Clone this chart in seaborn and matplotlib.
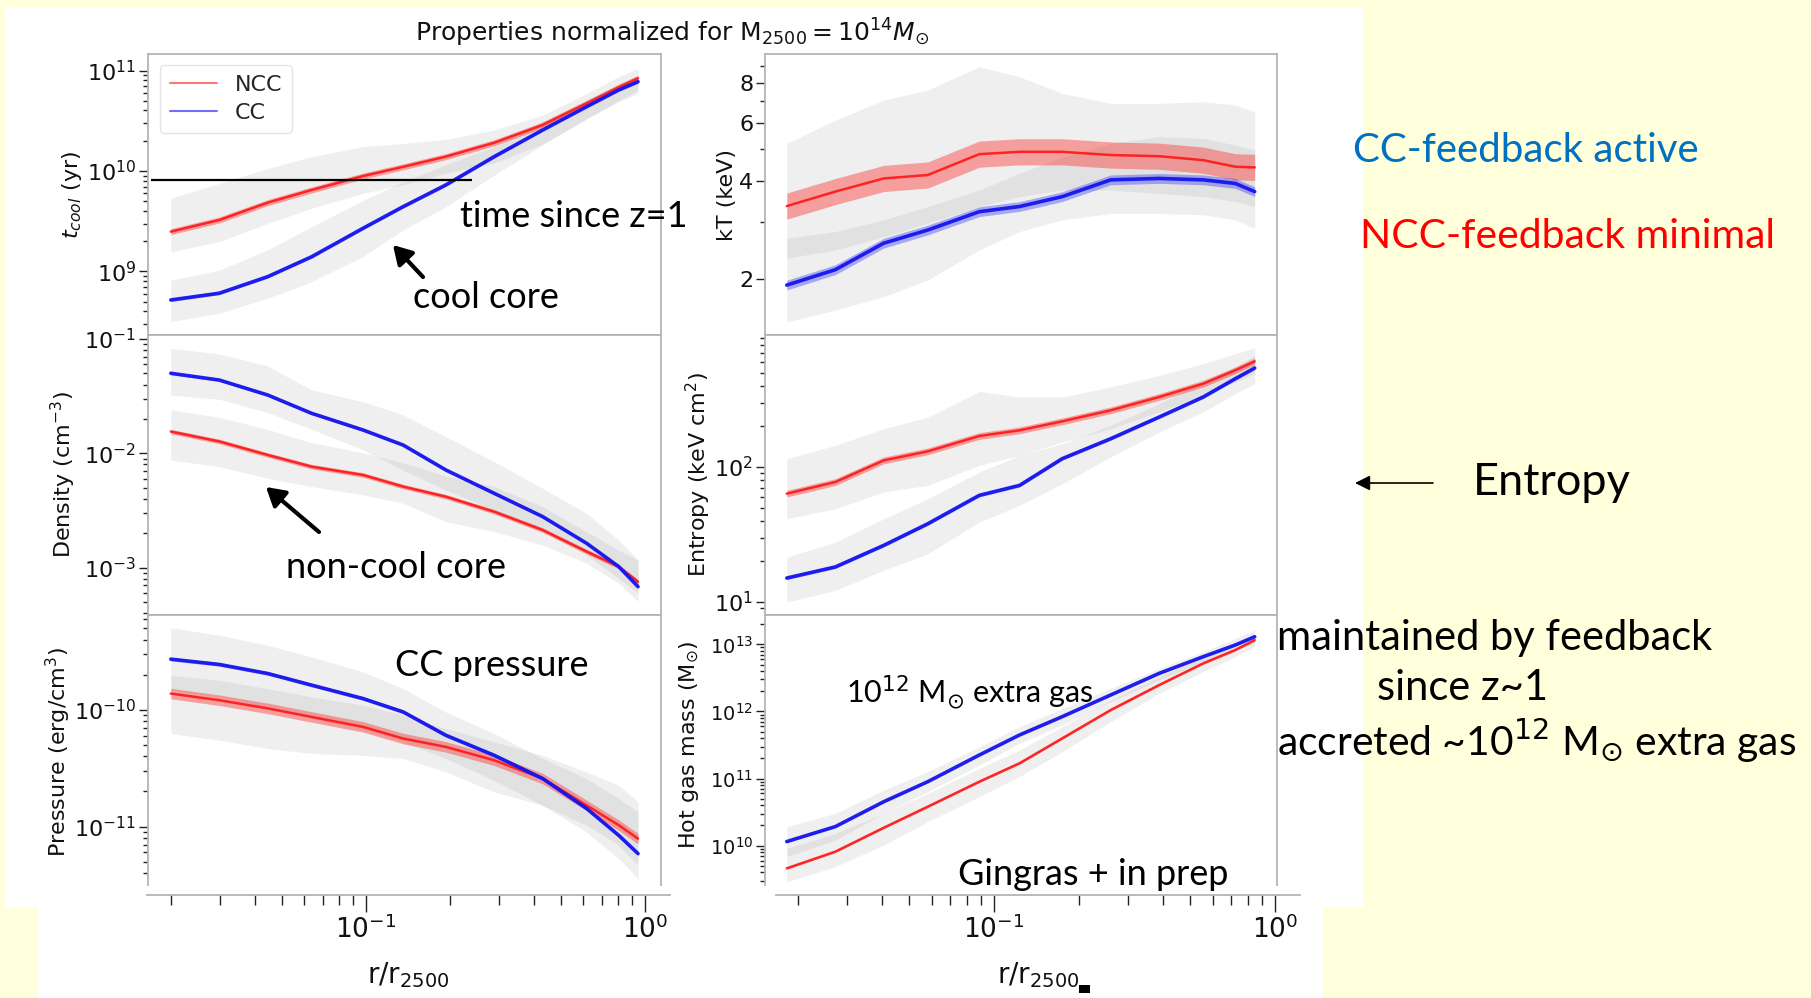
import matplotlib
matplotlib.use("Agg")
import numpy as np
import matplotlib.pyplot as plt
import seaborn as sns
from matplotlib.patches import Rectangle, FancyArrowPatch, ArrowStyle
from matplotlib.lines import Line2D
from matplotlib.ticker import (LogLocator, FixedLocator, FixedFormatter,
                               NullFormatter)

W, H = 1811, 998

# radial bins in units of r2500
radius = [0.02, 0.03, 0.045, 0.065, 0.1, 0.14, 0.2, 0.3, 0.45, 0.65, 0.85, 1.0]

# cooling time (yr)
tcool_ncc    = [2.49e9, 3.25e9, 4.84e9, 6.47e9, 8.9e9, 1.10e10, 1.39e10, 1.91e10, 2.87e10, 4.71e10, 6.81e10, 8.36e10]
tcool_ncc_lo = [1.57e9, 1.98e9, 3.0e9, 4.25e9, 6.0e9, 7.3e9, 9.5e9, 1.2e10, 1.86e10, 3.3e10, 5.0e10, 6.3e10]
tcool_ncc_hi = [5.35e9, 7.5e9, 1.06e10, 1.39e10, 1.75e10, 1.88e10, 2.06e10, 2.56e10, 3.6e10, 5.9e10, 8.7e10, 1.05e11]
tcool_cc     = [5.2e8, 6.07e8, 8.87e8, 1.40e9, 2.69e9, 4.42e9, 7.26e9, 1.39e10, 2.56e10, 4.37e10, 6.4e10, 7.74e10]
tcool_cc_lo  = [3.17e8, 3.84e8, 5.4e8, 7.9e8, 1.41e9, 2.59e9, 4.4e9, 9.1e9, 1.82e10, 3.3e10, 4.9e10, 5.9e10]
tcool_cc_hi  = [8.2e8, 1.03e9, 1.64e9, 2.79e9, 5.1e9, 7.8e9, 1.15e10, 1.75e10, 3.1e10, 5.1e10, 7.4e10, 9.0e10]
t_since_z1 = 8.2e9
t_line_span = [0.01694, 0.248]

# temperature (keV)
kt_ncc    = [3.35, 3.71, 4.07, 4.17, 4.83, 4.91, 4.91, 4.80, 4.76, 4.63, 4.42, 4.40]
kt_ncc_lo = [2.32, 2.46, 2.70, 2.97, 3.34, 3.58, 3.75, 3.75, 3.66, 3.58, 3.46, 3.34]
kt_ncc_hi = [5.21, 6.14, 7.07, 7.59, 8.94, 8.33, 7.41, 6.91, 6.91, 6.99, 6.83, 6.51]
kt_cc     = [1.92, 2.14, 2.58, 2.83, 3.22, 3.34, 3.58, 4.03, 4.07, 4.03, 3.93, 3.71]
kt_cc_lo  = [1.48, 1.61, 1.77, 1.99, 2.46, 2.80, 3.04, 3.18, 3.18, 3.15, 3.04, 2.86]
kt_cc_hi  = [2.67, 2.80, 3.04, 3.34, 3.75, 4.22, 4.74, 5.21, 5.46, 5.40, 5.15, 4.97]

# electron density (cm^-3)
dens_ncc    = [0.0155, 0.0127, 0.00967, 0.00764, 0.00646, 0.00511, 0.00417, 0.00308, 0.00213, 0.00138, 0.00102, 7.5e-4]
dens_ncc_lo = [0.00874, 0.00764, 0.00604, 0.00511, 0.00432, 0.00365, 0.00252, 0.00206, 0.00157, 0.00109, 7.27e-4, 5.03e-4]
dens_ncc_hi = [0.0240, 0.0207, 0.0162, 0.0124, 0.0101, 0.00828, 0.00633, 0.00511, 0.00341, 0.00206, 0.00142, 0.00116]
dens_cc     = [0.0502, 0.0438, 0.0324, 0.0224, 0.0160, 0.0118, 0.00715, 0.00446, 0.00279, 0.00163, 0.00102, 6.8e-4]
dens_cc_lo  = [0.0324, 0.0297, 0.0227, 0.0162, 0.0107, 0.00714, 0.00477, 0.00319, 0.00206, 0.00129, 8.04e-4, 5.94e-4]
dens_cc_hi  = [0.0831, 0.0741, 0.0582, 0.0359, 0.0283, 0.0217, 0.0140, 0.00845, 0.00494, 0.00298, 0.00174, 0.00116]

# entropy (keV cm^2)
ent_ncc    = [63.5, 77.4, 112, 130.6, 169.7, 186.9, 217.9, 263, 330, 414, 520, 606]
ent_ncc_lo = [41.4, 49.1, 65.3, 73.1, 102.9, 122, 153.2, 192.3, 255.6, 339.6, 426.3, 491.3]
ent_ncc_hi = [115.3, 144.7, 192.3, 234.6, 363.5, 330, 330, 391.5, 477.5, 582.6, 691, 761]
ent_cc     = [15.06, 18.2, 26.3, 38.0, 61.7, 73.1, 115.3, 162.1, 234.6, 330, 451, 541]
ent_cc_lo  = [10.0, 12.2, 17.2, 22.8, 39.1, 52.0, 75.2, 118.6, 181.7, 255.6, 349.3, 414]
ent_cc_hi  = [21.5, 27.8, 41.4, 58.3, 91.8, 122, 148.9, 203.5, 294.5, 426.3, 550.5, 671.8]

# pressure (erg/cm^3)
pres_ncc    = [1.38e-10, 1.21e-10, 1.03e-10, 8.7e-11, 7.15e-11, 5.68e-11, 4.82e-11, 3.7e-11, 2.58e-11, 1.52e-11, 1.03e-11, 7.88e-12]
pres_ncc_lo = [6.27e-11, 5.5e-11, 4.66e-11, 4.23e-11, 4.08e-11, 3.83e-11, 2.94e-11, 1.98e-11, 1.52e-11, 1.03e-11, 6.92e-12, 4.66e-12]
pres_ncc_hi = [1.98e-10, 1.79e-10, 1.52e-10, 1.29e-10, 1.10e-10, 9.0e-11, 6.92e-11, 5.32e-11, 4.08e-11, 2.94e-11, 2.26e-11, 1.63e-11]
pres_cc     = [2.72e-10, 2.45e-10, 2.05e-10, 1.63e-10, 1.25e-10, 9.6e-11, 6.06e-11, 4.08e-11, 2.58e-11, 1.43e-11, 8.43e-12, 5.87e-12]
pres_cc_lo  = [1.47e-10, 1.29e-10, 1.06e-10, 8.43e-11, 6.70e-11, 5.32e-11, 3.83e-11, 2.49e-11, 1.52e-11, 9.0e-12, 5.32e-12, 3.58e-12]
pres_cc_hi  = [5.05e-10, 4.37e-10, 3.58e-10, 2.84e-10, 2.12e-10, 1.52e-10, 9.6e-11, 6.27e-11, 3.83e-11, 2.58e-11, 1.74e-11, 1.34e-11]

# enclosed hot gas mass (Msun)
mgas_ncc    = [4.59e9, 8.13e9, 1.85e10, 3.81e10, 8.98e10, 1.69e11, 3.97e11, 1.05e12, 2.48e12, 5.21e12, 8.24e12, 1.16e13]
mgas_ncc_lo = [2.9e9, 4.86e9, 1.02e10, 2.28e10, 5.37e10, 1.07e11, 2.51e11, 7.03e11, 1.86e12, 3.92e12, 6.55e12, 9.23e12]
mgas_ncc_hi = [9.12e9, 1.52e10, 3.03e10, 6.01e10, 1.42e11, 2.66e11, 5.93e11, 1.48e12, 3.30e12, 6.55e12, 1.04e13, 1.38e13]
mgas_cc     = [1.15e10, 1.92e10, 4.52e10, 8.98e10, 2.24e11, 4.46e11, 8.36e11, 1.76e12, 3.70e12, 6.55e12, 9.78e12, 1.30e13]
mgas_cc_lo  = [6.86e9, 1.21e10, 3.03e10, 6.37e10, 1.59e11, 3.35e11, 6.28e11, 1.40e12, 2.94e12, 5.52e12, 8.24e12, 1.04e13]
mgas_cc_hi  = [1.92e10, 3.03e10, 6.74e10, 1.27e11, 2.98e11, 5.93e11, 1.11e12, 2.21e12, 4.38e12, 7.78e12, 1.23e13, 1.64e13]

# half-width (dex) of the bundle of individual cluster profiles
bundle_dex = {
    "tcool": (0.03, 0.015), "kt": (0.04, 0.015), "dens": (0.02, 0.012),
    "ent": (0.025, 0.012), "pres": (0.045, 0.015), "mgas": (0.015, 0.01),
}

# ---------------------------------------------------------------- style
sns.set_theme(style="ticks")
plt.rcParams["font.family"] = ["DejaVu Sans"]
plt.rcParams["mathtext.fontset"] = "dejavusans"
ANN = ["Lato", "DejaVu Sans"]

NCC_COL = "#ff1c1c"
CC_COL = "#1414f0"
SPINE = "#b4b4b4"
TICK = "#222222"

fig = plt.figure(figsize=(W / 100, H / 100), dpi=100, facecolor="#ffffdc")

# white slide area behind the chart
fig.patches.append(Rectangle((5 / W, 1 - 907 / H), 1358 / W, 899 / H,
                             transform=fig.transFigure, facecolor="white",
                             edgecolor="none", zorder=-10))
fig.patches.append(Rectangle((38 / W, 0), 1285 / W, 91 / H,
                             transform=fig.transFigure, facecolor="white",
                             edgecolor="none", zorder=-10))
fig.patches.append(Rectangle((1079 / W, 1 - 993 / H), 11 / W, 8 / H,
                             transform=fig.transFigure, facecolor="black",
                             edgecolor="none", zorder=5))


def px_rect(x0, x1, y0, y1):
    return [x0 / W, 1 - y1 / H, (x1 - x0) / W, (y1 - y0) / H]


col_x = [(148, 661), (765, 1277)]
col_xlim = [(0.01652, 1.212), (0.01667, 1.205)]
row_y = [(54, 335), (335, 615), (615, 885)]

panels = [
    dict(key="tcool", row=0, col=0, ylabel=r"$t_{cool}$ (yr)", ylim=(2.33e8, 1.46e11),
         ncc=(tcool_ncc, tcool_ncc_lo, tcool_ncc_hi), cc=(tcool_cc, tcool_cc_lo, tcool_cc_hi),
         lab=(72, 195), tsize=16),
    dict(key="dens", row=1, col=0, ylabel=r"Density (cm$^{-3}$)", ylim=(3.84e-4, 0.1086),
         ncc=(dens_ncc, dens_ncc_lo, dens_ncc_hi), cc=(dens_cc, dens_cc_lo, dens_cc_hi),
         lab=(63.5, 475), tsize=16),
    dict(key="pres", row=2, col=0, ylabel=r"Pressure (erg/cm$^3$)", ylim=(3.16e-12, 6.5e-10),
         ncc=(pres_ncc, pres_ncc_lo, pres_ncc_hi), cc=(pres_cc, pres_cc_lo, pres_cc_hi),
         lab=(58, 752), tsize=16),
    dict(key="kt", row=0, col=1, ylabel="kT (keV)", ylim=(1.351, 9.78),
         ncc=(kt_ncc, kt_ncc_lo, kt_ncc_hi), cc=(kt_cc, kt_cc_lo, kt_cc_hi),
         lab=(727, 195), tsize=16),
    dict(key="ent", row=1, col=1, ylabel=r"Entropy (keV cm$^2$)", ylim=(8.02, 950),
         ncc=(ent_ncc, ent_ncc_lo, ent_ncc_hi), cc=(ent_cc, ent_cc_lo, ent_cc_hi),
         lab=(698, 475), tsize=16),
    dict(key="mgas", row=2, col=1, ylabel=r"Hot gas mass (M$_{\odot}$)", ylim=(2.59e9, 2.74e13),
         ncc=(mgas_ncc, mgas_ncc_lo, mgas_ncc_hi), cc=(mgas_cc, mgas_cc_lo, mgas_cc_hi),
         lab=(689, 745), tsize=14),
]

axes = {}
for p in panels:
    (x0, x1), (y0, y1) = col_x[p["col"]], row_y[p["row"]]
    ax = fig.add_axes(px_rect(x0, x1, y0, y1))
    axes[p["key"]] = ax
    ax.set_facecolor("white")
    ax.set_xscale("log")
    ax.set_yscale("log")

    s_ncc, s_cc = bundle_dex[p["key"]]
    for (mid, lo, hi), col, s, z, a, lw in ((p["ncc"], NCC_COL, s_ncc, 3, 0.38, 1.8),
                                             (p["cc"], CC_COL, s_cc, 4, 0.32, 2.6)):
        mid_a = np.asarray(mid)
        # cluster-to-cluster scatter
        ax.fill_between(radius, lo, hi, color="#808080", alpha=0.12, lw=0, zorder=1)
        # bundle of individual profiles
        ax.fill_between(radius, mid_a * 10 ** (-s), mid_a * 10 ** s,
                        color=col, alpha=a, lw=0, zorder=z)
        sns.lineplot(x=radius, y=mid, ax=ax, color=col, lw=lw, alpha=0.95,
                     legend=False, errorbar=None, zorder=z + 0.5)

    ax.set_xlim(col_xlim[p["col"]])
    ax.set_ylim(p["ylim"])

    for sp in ax.spines.values():
        sp.set_color(SPINE)
        sp.set_linewidth(1.3)

    # x ticks: out, unlabelled
    ax.xaxis.set_major_locator(LogLocator(base=10, numticks=10))
    ax.xaxis.set_minor_locator(LogLocator(base=10, subs=np.arange(2, 10), numticks=30))
    ax.xaxis.set_major_formatter(NullFormatter())
    ax.xaxis.set_minor_formatter(NullFormatter())
    ax.tick_params(axis="x", which="major", direction="out", length=6.5, width=1, color=TICK)
    ax.tick_params(axis="x", which="minor", direction="out", length=4.3, width=1, color=TICK)
    if p["row"] == 2:
        ax.spines["bottom"].set_visible(False)
        ax.tick_params(axis="x", which="both", bottom=False)

    # y ticks
    if p["key"] == "kt":
        ax.yaxis.set_major_locator(FixedLocator([2, 4, 6, 8]))
        ax.yaxis.set_major_formatter(FixedFormatter(["2", "4", "6", "8"]))
        ax.yaxis.set_minor_locator(FixedLocator([3, 5, 7, 9]))
    else:
        ax.yaxis.set_major_locator(LogLocator(base=10, numticks=20))
        ax.yaxis.set_minor_locator(LogLocator(base=10, subs=np.arange(2, 10), numticks=60))
    ax.yaxis.set_minor_formatter(NullFormatter())
    ax.tick_params(axis="y", which="major", direction="out", length=6.5, width=1,
                   color=TICK, labelsize=p["tsize"], pad=2, labelcolor="#111111")
    ax.tick_params(axis="y", which="minor", direction="out", length=3.5, width=1, color=TICK)

    ax.set_xlabel("")
    ax.set_ylabel(p["ylabel"], fontsize=16, color="#111111", va="center")
    lx, ly = p["lab"]
    ax.yaxis.set_label_coords(lx / W, 1 - ly / H, transform=fig.transFigure)

# time since z = 1
axes["tcool"].hlines(t_since_z1, t_line_span[0], t_line_span[1], color="black", lw=1.6, zorder=6)

# legend
handles = [Line2D([], [], color=NCC_COL, lw=1.5, alpha=0.6),
           Line2D([], [], color=CC_COL, lw=1.5, alpha=0.6)]
axes["tcool"].legend(handles, ["NCC", "CC"], loc="upper left",
                     bbox_to_anchor=(0.0234, 0.961), borderaxespad=0, fontsize=16,
                     handlelength=2.1, handletextpad=0.8, labelspacing=0.35,
                     borderpad=0.45, frameon=True, fancybox=True,
                     edgecolor="#e2e2e2", framealpha=0.9)

# detached radius axes under each column
for (x0, x1), xl, cx in (((147, 670), (0.01641, 1.229), 408),
                         ((776, 1300), (0.01676, 1.227), 1038)):
    bx = fig.add_axes(px_rect(x0, x1, 885, 895))
    bx.patch.set_visible(False)
    bx.set_xscale("log")
    bx.set_xlim(xl)
    for s in ("top", "left", "right"):
        bx.spines[s].set_visible(False)
    bx.spines["bottom"].set_color(SPINE)
    bx.spines["bottom"].set_linewidth(1.3)
    bx.yaxis.set_visible(False)
    bx.xaxis.set_major_locator(LogLocator(base=10, numticks=10))
    bx.xaxis.set_minor_locator(LogLocator(base=10, subs=np.arange(2, 10), numticks=30))
    bx.xaxis.set_minor_formatter(NullFormatter())
    bx.tick_params(axis="x", which="major", length=12, width=1, color=TICK,
                   labelsize=19, pad=3, labelcolor="#111111")
    bx.tick_params(axis="x", which="minor", length=7, width=1, color=TICK)
    bx.set_xlabel(r"r/r$_{2500}$", fontsize=20, color="#111111", va="center")
    bx.xaxis.set_label_coords(cx / W, 1 - 975 / H, transform=fig.transFigure)

# title
fig.text(415 / W, 1 - 33 / H, r"Properties normalized for M$_{2500} = 10^{14}M_{\odot}$",
         ha="left", va="center", fontsize=18, color="#111111")


def note(x, y, s, size, color="black"):
    fig.text(x / W, 1 - y / H, s, fontsize=size, color=color, ha="left",
             va="baseline", family=ANN, zorder=6)


def arrow(tail, head, lw, hl, hw):
    fig.add_artist(FancyArrowPatch(
        posA=(tail[0] / W, 1 - tail[1] / H), posB=(head[0] / W, 1 - head[1] / H),
        transform=fig.transFigure, arrowstyle=ArrowStyle("-|>", head_length=hl, head_width=hw),
        mutation_scale=1, lw=lw, color="black", shrinkA=0, shrinkB=0, zorder=6))


note(460, 227, "time since z=1", 26)
note(413, 308, "cool core", 26)
note(286, 578, "non-cool core", 26)
note(395, 676, "CC pressure", 26)
note(846, 703, r"10$^{12}$ M$_{\odot}$ extra gas", 22)
note(958, 885, "Gingras + in prep", 26)
note(1353, 162, "CC-feedback active", 29)
fig.texts[-1].set_color("#0070c0")
note(1360, 248, "NCC-feedback minimal", 29.4, color="#ff0000")
note(1473, 495, "Entropy", 32.5)
note(1277, 650, "maintained by feedback", 30)
note(1377, 700, "since z~1", 30)
note(1277, 755, r"accreted ~10$^{12}$ M$_{\odot}$ extra gas", 29.3)

arrow((423, 277), (393, 245), 3.0, 11, 6.5)
arrow((319, 532), (266, 487), 3.0, 11, 6.5)
arrow((1433, 483), (1355, 483), 1.2, 9, 4.5)

fig.savefig("out.png", dpi=100, facecolor=fig.get_facecolor())
